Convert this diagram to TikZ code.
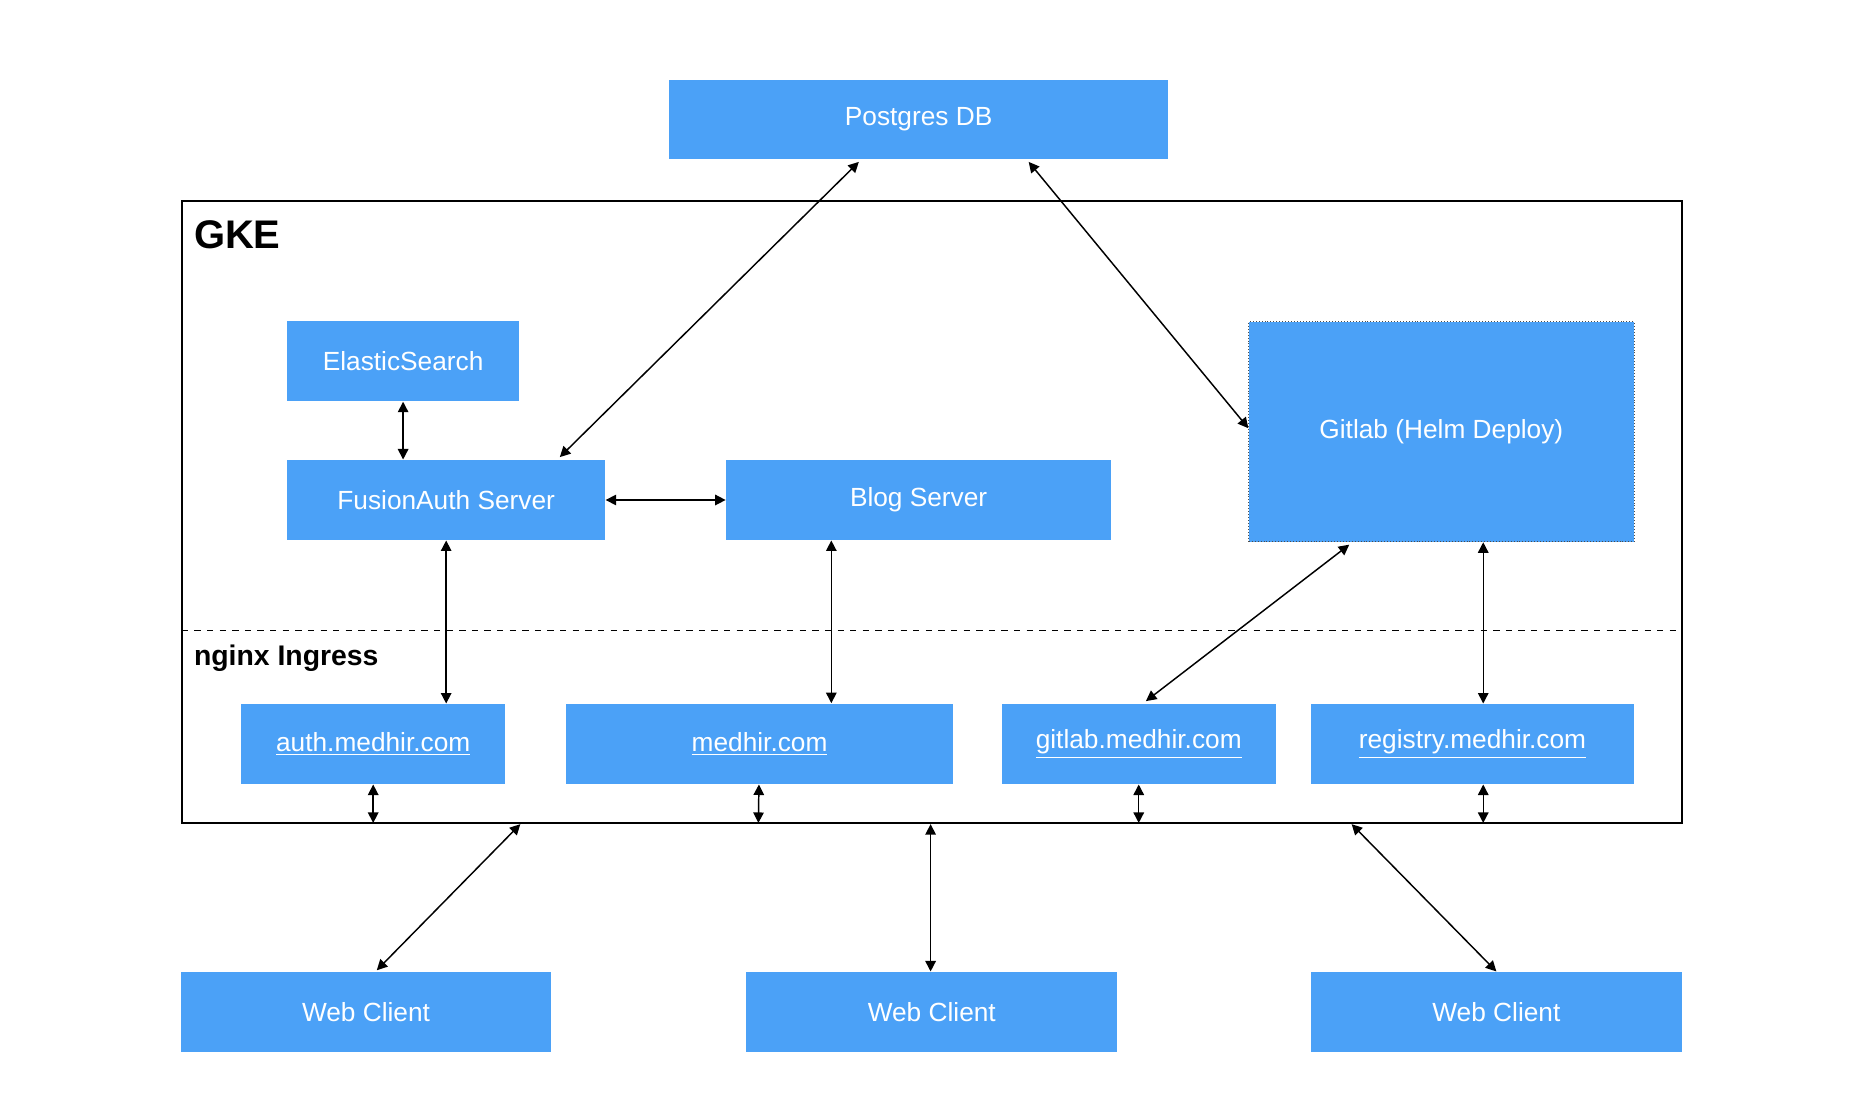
\documentclass[tikz,border=0pt]{standalone}
\usepackage{fontspec}
\setmainfont{Liberation Sans}
\usetikzlibrary{positioning,arrows.meta,calc}
\definecolor{boxblue}{HTML}{4BA1F7}

\begin{document}
\begin{tikzpicture}[x=0.02cm, y=-0.02cm,
    box/.style={rectangle, fill=boxblue, text=white, inner sep=0pt, font=\fontsize{12.5}{15}\selectfont},
    link/.style={{Triangle[length=5pt,width=5pt]}-{Triangle[length=5pt,width=5pt]}, line width=0.7pt}]
        \useasboundingbox (0,0) rectangle (1560,933);

        %-----Frame-----
        \draw[line width=0.8pt] (152,168) rectangle (1406,688);
        \draw[dashed, line width=0.6pt] (152,527) -- (1406,527);
        \node[anchor=west, font=\bfseries\fontsize{19}{22}\selectfont] (gke) at (156,196) {GKE};
        \node[anchor=west, font=\bfseries\fontsize{13.5}{16}\selectfont] (ingress) at (156,550) {nginx Ingress};

        %-----Entities-----

        % Database
        \node[box, minimum width=417*0.02cm, minimum height=66*0.02cm] (db) at (768,100) {Postgres DB};

        % Servers
        \node[box, minimum width=194*0.02cm, minimum height=67*0.02cm] (elastic) at (337,302) {ElasticSearch};
        \node[box, minimum width=266*0.02cm, minimum height=67*0.02cm] (fusion) at (373,418) {FusionAuth Server};
        \node[box, minimum width=322*0.02cm, minimum height=67*0.02cm] (blog) at (768,418) {Blog Server};
        \node[box, draw=black!70, densely dotted, minimum width=322*0.02cm, minimum height=184*0.02cm] (gitlab) at (1205,361) {Gitlab (Helm Deploy)};

        % Ingress hosts
        \node[box, minimum width=221*0.02cm, minimum height=67*0.02cm] (auth) at (312,622) {\underline{auth.medhir.com}};
        \node[box, minimum width=323*0.02cm, minimum height=67*0.02cm] (site) at (635,622) {\underline{medhir.com}};
        \node[box, minimum width=229*0.02cm, minimum height=67*0.02cm] (gitlabweb) at (952,622) {\underline{gitlab.medhir.com}};
        \node[box, minimum width=270*0.02cm, minimum height=67*0.02cm] (registry) at (1231,622) {\underline{registry.medhir.com}};

        % Web clients
        \node[box, minimum width=310*0.02cm, minimum height=67*0.02cm] (client1) at (306,846) {Web Client};
        \node[box, minimum width=310*0.02cm, minimum height=67*0.02cm] (client2) at (779,846) {Web Client};
        \node[box, minimum width=310*0.02cm, minimum height=67*0.02cm] (client3) at (1251,846) {Web Client};

        % Ingress edge points
        \coordinate (e1) at (312,688);
        \coordinate (e2) at (634,688);
        \coordinate (e3) at (952,688);
        \coordinate (e4) at (1240,688);
        \coordinate (c1) at (435,689);
        \coordinate (c2) at (778,689);
        \coordinate (c3) at (1130,689);

        %-----Connections-----
        \draw[link] ($(db.south)+(-50,2)$) -- ($(fusion.north)+(95,-2)$);
        \draw[link] ($(db.south)+(92,2)$) -- ($(gitlab.west)+(0,-3)$);
        \draw[link] (elastic) -- (elastic |- fusion.north);
        \draw[link] (fusion) -- (blog);
        \draw[link] (fusion) -- (fusion |- auth.north);
        \draw[link] (blog.south -| site.north) ++(60,0) -- ++(0,136);
        \draw[link] ($(gitlab.south)+(-77,2)$) -- ($(gitlabweb.north)+(6,-2)$);
        \draw[link] ($(gitlab.south)+(35,0)$) -- ($(registry.north)+(9,0)$);

        % Hosts to ingress edge
        \draw[link] (auth) -- (e1);
        \draw[link] (site) -- (e2);
        \draw[link] (gitlabweb) -- (e3);
        \draw[link] (registry.south -| e4) -- (e4);

        % Clients to ingress edge
        \draw[link] ($(client1.north)+(9,-1)$) -- (c1);
        \draw[link] (client2.north -| c2) -- (c2);
        \draw[link] (client3.north) -- (c3);

    \end{tikzpicture}
\end{document}
